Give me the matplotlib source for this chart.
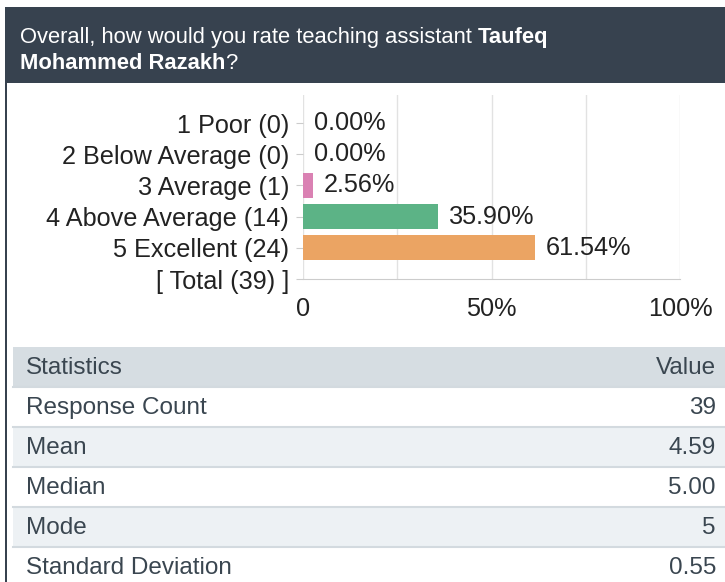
import matplotlib
matplotlib.use('Agg')
import matplotlib.pyplot as plt
from matplotlib.patches import Rectangle

# ---- data ----
categories = ["1 Poor", "2 Below Average", "3 Average", "4 Above Average", "5 Excellent"]
counts = [0, 0, 1, 14, 24]
percents = [0.00, 0.00, 2.56, 35.90, 61.54]
total_count = 39
bar_colors = ["#da81b3", "#da81b3", "#da81b3", "#5cb386", "#eba463"]
x_ticks = [0, 25, 50, 75, 100]
x_tick_labels = ["0", "", "50%", "", "100%"]
stat_names = ["Response Count", "Mean", "Median", "Mode", "Standard Deviation"]
stat_values = ["39", "4.59", "5.00", "5", "0.55"]

plt.rcParams['font.family'] = ['Liberation Sans', 'DejaVu Sans']

W, H = 725, 582
fig = plt.figure(figsize=(W / 100, H / 100), dpi=100)
fig.patch.set_facecolor('white')

# background overlay in pixel coordinates
bg = fig.add_axes([0, 0, 1, 1])
bg.set_xlim(0, W)
bg.set_ylim(H, 0)
bg.axis('off')

DARK = '#37424f'
bg.add_patch(Rectangle((5, 7), W - 5, 76, color=DARK, lw=0))
bg.add_patch(Rectangle((5, 7), 2.5, H - 7, color=DARK, lw=0))

TFS = 15.8
t1 = bg.text(20, 43, "Overall, how would you rate teaching assistant ", color='white',
             fontsize=TFS, va='baseline', ha='left')
bg.annotate("Taufeq", xy=(1, 43), xycoords=(t1, 'data'), color='white',
            fontsize=TFS, fontweight='bold', va='baseline', ha='left')
t2 = bg.text(20, 69, "Mohammed Razakh", color='white', fontsize=TFS,
             fontweight='bold', va='baseline', ha='left')
bg.annotate("?", xy=(1, 69), xycoords=(t2, 'data'), color='white',
            fontsize=TFS, va='baseline', ha='left')

# statistics table
FS = 17.5
CFS = 18.2
TXT = '#3a4650'
bg.add_patch(Rectangle((13, 347), W - 13, 40, color='#d6dde2', lw=0))
bg.text(26, 368, "Statistics", fontsize=FS, color=TXT, va='center', ha='left')
bg.text(716, 368, "Value", fontsize=FS, color=TXT, va='center', ha='right')
for i, (name, val) in enumerate(zip(stat_names, stat_values)):
    y0 = 387 + 40 * i
    bg.add_patch(Rectangle((13, y0), W - 13, 40,
                           color='#edf1f4' if i % 2 == 1 else 'white', lw=0))
    bg.plot([13, W], [y0, y0], color='#d3dadf', lw=1.5)
    bg.text(26, y0 + 21, name, fontsize=FS, color=TXT, va='center', ha='left')
    bg.text(716, y0 + 21, val, fontsize=FS, color=TXT, va='center', ha='right')

# bar chart
ax = fig.add_axes([303 / W, 1 - 279 / H, 377 / W, 184 / H])
ax.patch.set_alpha(0)
ypos = list(range(len(categories)))
ax.barh(ypos, percents, height=0.8, color=bar_colors, zorder=3)
ax.set_xlim(0, 100)
ax.set_ylim(len(categories), -0.9)

ylabels = [f"{c} ({n})" for c, n in zip(categories, counts)] + [f"[ Total ({total_count}) ]"]
ax.set_yticks(list(range(len(categories) + 1)))
ax.set_yticklabels(ylabels)
ax.set_xticks(x_ticks)
ax.set_xticklabels(x_tick_labels)
ax.xaxis.grid(True, color='#e2e2e2', lw=1, zorder=0)
ax.set_axisbelow(True)
for s in ['top', 'right', 'left']:
    ax.spines[s].set_visible(False)
ax.spines['bottom'].set_color('#cccccc')
ax.tick_params(axis='y', length=5, color='#cccccc', labelsize=CFS, pad=5, labelcolor='#222222')
ax.tick_params(axis='x', length=0, pad=13, labelsize=CFS, labelcolor='#222222')

for i, p in enumerate(percents):
    ax.annotate(f"{p:.2f}%", xy=(p, i), xytext=(11, 0), textcoords='offset pixels',
                va='center', ha='left', fontsize=CFS, color='#222222', zorder=4)

fig.savefig('out.png', dpi=100)
